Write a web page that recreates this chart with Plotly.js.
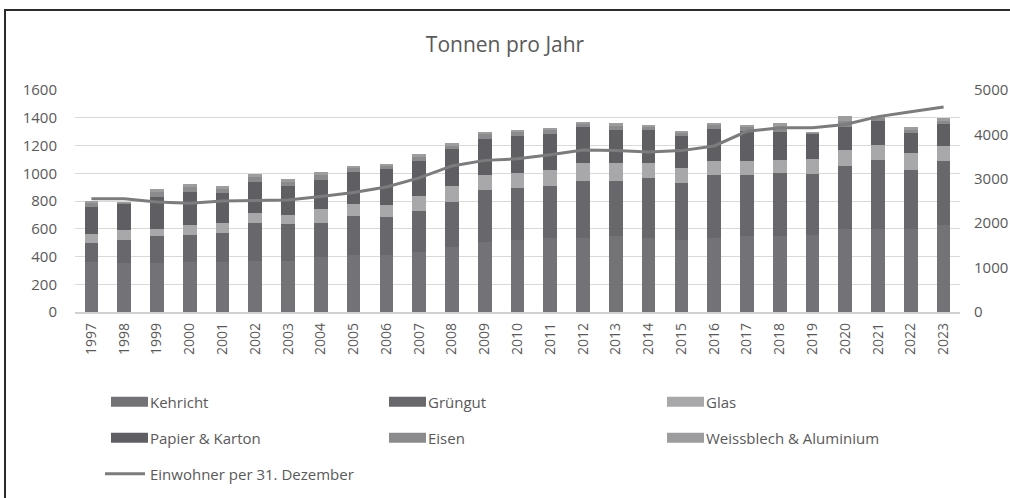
<!DOCTYPE html>
<html>
<head>
<meta charset="utf-8">
<script src="https://cdn.plot.ly/plotly-3.0.1.min.js"></script>
<style>
  html, body { margin: 0; padding: 0; background: #ffffff; overflow: hidden; }
  #chart { position: absolute; left: 0; top: 0; width: 1010px; height: 498px; }
  #frame { position: absolute; left: 4px; top: 9px; width: 1200px; height: 600px;
           border-top: 2px solid #2b2b2b; border-left: 2px solid #2b2b2b; pointer-events: none; }
</style>
</head>
<body>
<div id="chart"></div>
<div id="frame"></div>
<script>
const years = ["1997","1998","1999","2000","2001","2002","2003","2004","2005","2006","2007","2008","2009","2010","2011","2012","2013","2014","2015","2016","2017","2018","2019","2020","2021","2022","2023"];
const kehricht = [360,355,355,360,360,370,370,400,410,410,435,470,505,520,530,535,545,535,520,530,550,550,555,600,600,600,630];
const gruengut = [135,165,190,195,210,275,265,245,280,275,290,325,375,375,375,410,400,430,410,460,440,450,440,455,495,425,460];
const glas = [70,70,55,75,75,70,65,95,90,85,110,110,105,110,120,130,130,110,110,95,100,95,105,115,110,120,105];
const papier = [195,185,230,235,215,220,210,210,230,260,255,270,265,265,260,255,240,240,225,235,215,200,180,160,170,145,160];
const eisen = [25,10,35,35,30,35,30,35,25,20,30,25,30,25,25,25,25,20,25,25,25,40,12,50,25,25,25];
const weissblech = [15,5,20,25,20,25,20,25,15,15,20,20,20,15,15,15,20,15,15,15,20,25,8,30,15,15,15];
const einwohner = [2550,2550,2475,2450,2500,2510,2525,2600,2690,2815,3020,3290,3415,3450,3540,3650,3640,3605,3635,3740,4070,4150,4150,4225,4400,4510,4615];

const FONT = "'Open Sans', sans-serif";
const TXT = "#595959";

function bar(name, vals, color, lg) {
  return { type: "bar", name: name, x: years, y: vals, marker: { color: color }, legend: lg };
}

const traces = [
  bar("Kehricht", kehricht, "#737377", "legend"),
  bar("Grüngut", gruengut, "#68686c", "legend"),
  bar("Glas", glas, "#a8a8aa", "legend"),
  bar("Papier & Karton", papier, "#5f5f63", "legend2"),
  bar("Eisen", eisen, "#8b8b8e", "legend2"),
  bar("Weissblech & Aluminium", weissblech, "#9d9d9f", "legend2"),
  { type: "scatter", mode: "lines", name: "Einwohner per 31. Dezember", x: years, y: einwohner,
    yaxis: "y2", line: { color: "#7c7c7e", width: 3 }, legend: "legend3" }
];

function lgd(y) {
  return { orientation: "h", xref: "container", yref: "container", x: 0.099, y: y,
           xanchor: "left", yanchor: "middle", traceorder: "normal",
           entrywidth: 223, entrywidthmode: "pixels", itemwidth: 40,
           font: { family: FONT, size: 15, color: TXT }, bgcolor: "rgba(0,0,0,0)" };
}

const layout = {
  width: 1010, height: 498,
  paper_bgcolor: "#ffffff", plot_bgcolor: "#ffffff",
  margin: { l: 75, r: 50, t: 90, b: 186 },
  font: { family: FONT, color: TXT },
  title: { text: "Tonnen pro Jahr", x: 0.5, xref: "container", y: 1 - 45/498, yanchor: "middle",
           font: { family: FONT, size: 21, color: TXT } },
  barmode: "stack", bargap: 0.58,
  xaxis: { type: "category", tickangle: -90, tickfont: { family: FONT, size: 14, color: TXT },
           showgrid: false, ticks: "", showline: true, linecolor: "#d0d0d0", linewidth: 1.5, ticklabelstandoff: 4 },
  yaxis: { range: [0, 1600], dtick: 200, tick0: 0, showgrid: true, gridcolor: "#d9d9d9", gridwidth: 1,
           zeroline: false, tickfont: { family: FONT, size: 15, color: TXT }, ticks: "", ticklabelstandoff: 17 },
  yaxis2: { overlaying: "y", side: "right", range: [0, 5000], dtick: 1000, tick0: 0, showgrid: false,
            zeroline: false, tickfont: { family: FONT, size: 15, color: TXT }, ticks: "", ticklabelstandoff: 13 },
  legend: lgd(1 - 402/498),
  legend2: lgd(1 - 438/498),
  legend3: lgd(1 - 474/498),
  showlegend: true
};

Plotly.newPlot("chart", traces, layout, { staticPlot: true, displayModeBar: false }).then(function (gd) {
  // widen the bar legend swatches into flat rectangles like the original
  gd.querySelectorAll("g.legendpoints path").forEach(function (p) {
    p.setAttribute("d", "M23,5H-14V-5H23Z");
  });
});
</script>
</body>
</html>
